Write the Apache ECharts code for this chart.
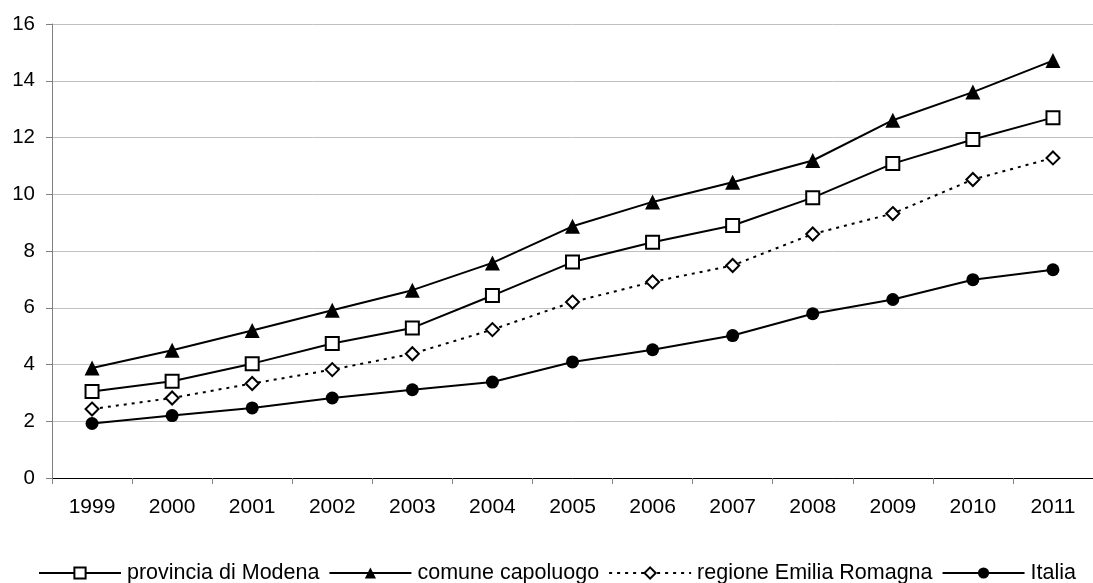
<!DOCTYPE html>
<html>
<head>
<meta charset="utf-8">
<script src="https://cdn.jsdelivr.net/npm/echarts@6/dist/echarts.min.js"></script>
<style>
html,body{margin:0;padding:0;background:#fff;}
#chart{width:1093px;height:583px;}
</style>
</head>
<body>
<div id="chart"></div>
<script>
const years = ['1999','2000','2001','2002','2003','2004','2005','2006','2007','2008','2009','2010','2011'];
const provinciaModena = [3.05,3.41,4.03,4.74,5.29,6.43,7.61,8.31,8.90,9.88,11.08,11.93,12.70];
const comuneCapoluogo = [3.88,4.50,5.20,5.91,6.62,7.58,8.87,9.73,10.42,11.19,12.61,13.60,14.71];
const regioneEmiliaRomagna = [2.43,2.82,3.33,3.82,4.38,5.23,6.20,6.91,7.49,8.60,9.32,10.52,11.28];
const italia = [1.92,2.20,2.47,2.82,3.11,3.38,4.09,4.52,5.02,5.79,6.29,6.99,7.34];
const seriesNames = ['provincia di Modena','comune capoluogo','regione Emilia Romagna','Italia'];

const FONT = '"Liberation Sans", Arial, sans-serif';
const chart = echarts.init(document.getElementById('chart'), null, {renderer:'canvas'});

function mk(name, data, symbol, filled, size, dashed){
  return {
    name: name,
    type: 'line',
    data: data,
    symbol: symbol,
    symbolSize: size,
    showAllSymbol: true,
    animation: false,
    lineStyle: {color:'#000', width:2, type: dashed ? [3,5] : 'solid'},
    itemStyle: {color: filled ? '#000' : '#fff', borderColor:'#000', borderWidth: filled ? 0 : 2},
    emphasis: {disabled:true}
  };
}

chart.setOption({
  animation: false,
  backgroundColor: '#fff',
  textStyle: {fontFamily: FONT, color:'#000'},
  grid: {left: 52, right: -7, top: 24, bottom: 105, containLabel: false},
  legend: {
    data: seriesNames,
    left: 33,
    top: 557,
    itemWidth: 82,
    itemHeight: 14,
    itemGap: 9,
    textStyle: {fontFamily: FONT, fontSize: 21.5, color:'#000', padding:[0,0,0,1]}
  },
  xAxis: {
    type: 'category',
    data: years,
    boundaryGap: true,
    axisLine: {lineStyle: {color:'#000', width:1}},
    axisTick: {show:true, alignWithLabel:false, length:6, lineStyle:{color:'#808080'}},
    axisLabel: {fontFamily: FONT, fontSize: 21, color:'#000', margin: 19, interval:0},
    splitLine: {show:false}
  },
  yAxis: {
    type: 'value',
    min: 0, max: 16, interval: 2,
    axisLine: {show:true, lineStyle: {color:'#808080', width:1}},
    axisTick: {show:true, length:6, lineStyle:{color:'#808080'}},
    axisLabel: {fontFamily: FONT, fontSize: 20.5, color:'#000', margin: 17},
    splitLine: {show:true, lineStyle:{color:'#c0c0c0', width:1}}
  },
  series: [
    mk(seriesNames[0], provinciaModena, 'rect', false, 13, false),
    mk(seriesNames[1], comuneCapoluogo, 'triangle', true, 15, false),
    mk(seriesNames[2], regioneEmiliaRomagna, 'diamond', false, 13, true),
    mk(seriesNames[3], italia, 'circle', true, 13, false)
  ]
});
</script>
</body>
</html>
